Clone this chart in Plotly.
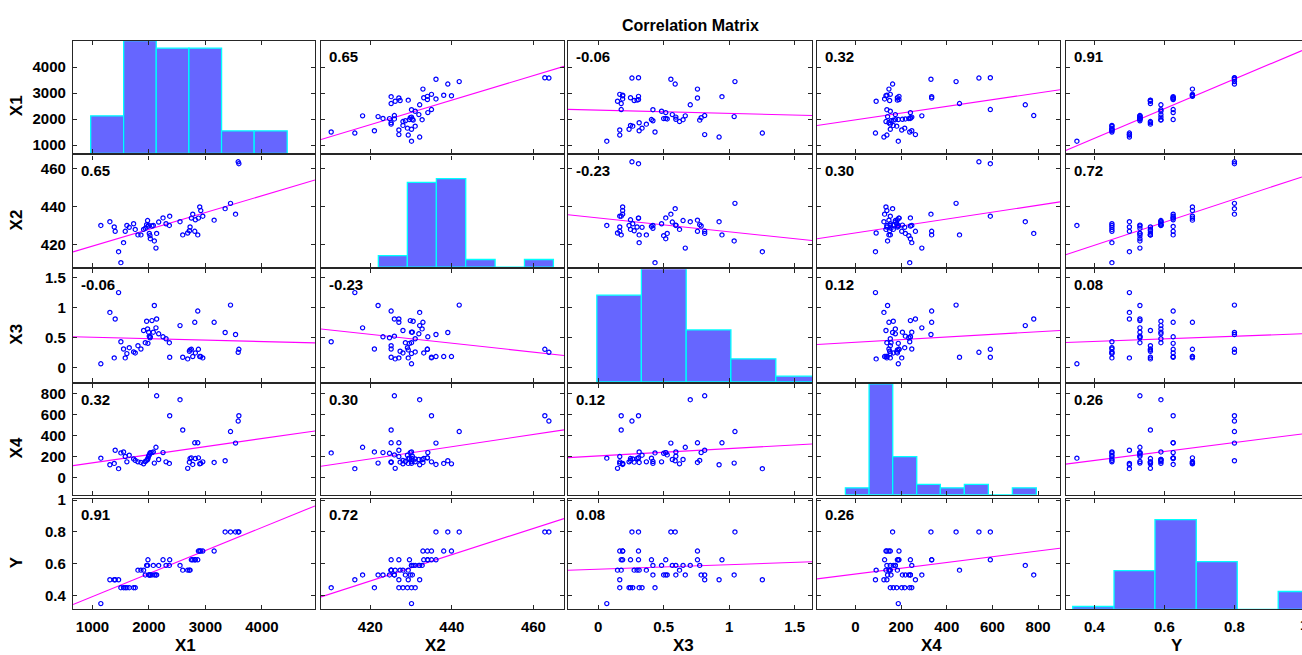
import numpy as np
import plotly.graph_objects as go

# ---------------------------------------------------------------- data
names = ["X1", "X2", "X3", "X4", "Y"]

x1 = [1148, 1308, 1385, 1402, 1462, 1503, 1550, 1580, 1609, 1651, 1728, 1757,
      1805, 1858, 1905, 1935, 1959, 1976, 1982, 1994, 2006, 2018, 2024, 2053,
      2077, 2095, 2124, 2136, 2172, 2249, 2302, 2361, 2367, 2550, 2598, 2686,
      2716, 2728, 2751, 2775, 2811, 2822, 2864, 2876, 2899, 2917, 2953, 3154,
      3349, 3444, 3533, 3580, 3592]
x2 = [430.1, 432.1, 429.3, 427.0, 416.2, 410.4, 421.0, 427.0, 430.1, 429.1,
      431.0, 428.0, 425.1, 425.1, 428.0, 428.6, 430.5, 432.7, 429.6, 430.3,
      425.9, 424.7, 423.1, 429.8, 430.1, 421.9, 418.1, 425.9, 431.9, 434.1,
      431.0, 430.1, 435.0, 432.1, 425.1, 426.1, 427.3, 429.3, 434.0, 436.1,
      427.0, 433.1, 425.1, 434.0, 439.9, 438.0, 435.0, 432.9, 439.0, 441.8,
      436.1, 463.8, 462.8]
x3 = [0.066, 0.923, 0.165, 0.813, 1.253, 0.434, 0.313, 0.165, 0.236, 0.335,
      0.264, 0.247, 0.368, 0.313, 0.621, 0.418, 0.775, 0.648, 0.407, 0.593,
      0.527, 0.500, 0.516, 0.786, 0.593, 1.038, 0.665, 0.813, 0.566, 0.516,
      0.484, 0.418, 0.176, 0.703, 0.176, 0.148, 0.275, 0.297, 0.308, 0.187,
      0.758, 0.247, 0.945, 0.308, 0.187, 0.187, 0.165, 0.758, 0.588, 1.044,
      0.555, 0.258, 0.308]
x4 = [188, 125, 138, 263, 88, 238, 247, 203, 153, 216, 181, 166, 153, 147,
      134, 156, 166, 175, 188, 206, 219, 234, 241, 241, 247, 141, 291, 781,
      175, 241, 153, 138, 591, 744, 456, 91, 150, 184, 191, 128, 334, 184,
      334, 191, 134, 138, 153, 147, 163, 441, 331, 541, 591]
y = [0.35, 0.50, 0.50, 0.50, 0.50, 0.45, 0.45, 0.45, 0.45, 0.45, 0.45, 0.45,
     0.56, 0.56, 0.56, 0.53, 0.59, 0.59, 0.625, 0.53, 0.53, 0.53, 0.53, 0.53,
     0.59, 0.53, 0.53, 0.53, 0.59, 0.625, 0.59, 0.59, 0.625, 0.59, 0.56, 0.56,
     0.56, 0.56, 0.625, 0.625, 0.625, 0.625, 0.625, 0.68, 0.68, 0.68, 0.68,
     0.68, 0.80, 0.80, 0.80, 0.80, 0.80]

# pairwise correlation coefficients printed in each panel
corr_labels = [
    [None, 0.65, -0.06, 0.32, 0.91],
    [0.65, None, -0.23, 0.30, 0.72],
    [-0.06, -0.23, None, 0.12, 0.08],
    [0.32, 0.30, 0.12, None, 0.26],
    [0.91, 0.72, 0.08, 0.26, None],
]

# diagonal histograms: bin edges (variable units) and bar heights (counts)
hist_edges = [
    [968, 1552, 2129, 2708, 3286, 3863, 4448],
    [421.96, 429.08, 436.2, 443.4, 450.6, 457.8, 464.9],
    [-0.01, 0.33, 0.672, 1.013, 1.356, 1.698],
    [-43.8, 60, 163.7, 268.8, 372.2, 477.2, 582.3, 687.4, 792.5],
    [0.338, 0.456, 0.573, 0.691, 0.808, 0.925, 1.042],
]
hist_counts = [
    [5, 15, 14, 14, 3, 3],
    [3, 22, 23, 2, 0, 2],
    [15, 21, 9, 4, 1],
    [2, 32, 11, 3, 2, 3, 0, 2],
    [1, 13, 30, 16, 0, 6],
]
# count that fills the full height of each diagonal panel
hist_top = [15, 29, 19.5, 32, 37]

tick_vals = [
    [1000, 2000, 3000, 4000],
    [420, 440, 460],
    [0, 0.5, 1, 1.5],
    [0, 200, 400, 600, 800],
    [0.4, 0.6, 0.8, 1],
]
tick_text = [
    ["1000", "2000", "3000", "4000"],
    ["420", "440", "460"],
    ["0", "0.5", "1", "1.5"],
    ["0", "200", "400", "600", "800"],
    ["0.4", "0.6", "0.8", "1"],
]

data = [np.array(v, dtype=float) for v in (x1, x2, x3, x4, y)]

# ---------------------------------------------------------------- layout geometry
W, H = 1302, 655
col_px = [(73, 315), (321, 564), (568, 812), (817, 1060), (1065.7, 1302)]
row_px = [(34, 148), (150, 263), (265, 379), (381, 493), (497, 609)]
col_range = [[655, 4940], [407.9, 467.5], [-0.23, 1.632], [-168, 896], [0.318, 0.993]]
row_range = [[678, 5020], [408, 467.2], [-0.236, 1.643], [-160, 894], [0.313, 1.009]]

FONT = "Liberation Sans, Arial, sans-serif"
AX = "#262626"
BLUE = "#0000FF"
MAGENTA = "#FF00FF"


def xd(px):
    return px / W


def yd(px):
    return 1 - px / H


def ax_name(kind, idx):
    return kind if idx == 1 else f"{kind}{idx}"


fig = go.Figure()
layout = {}
annotations = []

for r in range(5):
    for c in range(5):
        idx = r * 5 + c + 1
        xa, ya = ax_name("x", idx), ax_name("y", idx)
        common = dict(
            showline=True, linecolor=AX, linewidth=1.3,
            ticks="inside", ticklen=4, tickwidth=1.1, tickcolor=AX,
            showgrid=False, zeroline=False,
            tickfont=dict(family=FONT, size=15, color="black", weight="bold"),
        )
        layout[ax_name("xaxis", idx)] = dict(
            common, domain=[xd(col_px[c][0]), xd(col_px[c][1])], anchor=ya,
            range=col_range[c], tickmode="array", tickvals=tick_vals[c],
            ticktext=tick_text[c], showticklabels=(r == 4), mirror="ticks",
            ticklabelstandoff=3,
        )
        layout[ax_name("yaxis", idx)] = dict(
            common, domain=[yd(row_px[r][1]), yd(row_px[r][0])], anchor=xa,
            range=row_range[r], tickmode="array", tickvals=tick_vals[r],
            ticktext=tick_text[r], showticklabels=(c == 0),
            mirror=("ticks" if c < 4 else False),
            ticklabelstandoff=3,
        )

        if r == c:
            # histogram scaled so that hist_top fills the panel height
            lo, hi = row_range[r]
            edges = np.array(hist_edges[r])
            centers = (edges[:-1] + edges[1:]) / 2
            widths = np.diff(edges)
            heights = np.array(hist_counts[r], dtype=float) / hist_top[r] * (hi - lo)
            fig.add_trace(go.Bar(
                x=centers, y=heights, base=lo, width=widths,
                marker=dict(color="rgba(0,0,255,0.6)",
                            line=dict(color="#00FFFF", width=1.3)),
                xaxis=xa, yaxis=ya, showlegend=False, hoverinfo="skip",
            ))
        else:
            xv, yv = data[c], data[r]
            slope, icpt = np.polyfit(xv, yv, 1)
            lx = np.array(col_range[c])
            fig.add_trace(go.Scatter(
                x=lx, y=slope * lx + icpt, mode="lines",
                line=dict(color=MAGENTA, width=1.1),
                xaxis=xa, yaxis=ya, showlegend=False, hoverinfo="skip",
            ))
            fig.add_trace(go.Scatter(
                x=xv, y=yv, mode="markers",
                marker=dict(symbol="circle-open", size=4.2, color=BLUE,
                            line=dict(color=BLUE, width=1.2)),
                xaxis=xa, yaxis=ya, showlegend=False,
            ))
            annotations.append(dict(
                text=f"{corr_labels[r][c]:.2f}", showarrow=False,
                xref=f"{xa} domain", yref=f"{ya} domain",
                x=0, y=1, xanchor="left", yanchor="middle",
                xshift=6, yshift=-15.5,
                font=dict(family=FONT, size=15, color="black", weight="bold"),
            ))

# row labels on the left
for r, nm in enumerate(names):
    cy = (row_px[r][0] + row_px[r][1]) / 2 + 8.7
    annotations.append(dict(
        text=nm, showarrow=False, xref="paper", yref="paper",
        x=xd(16.5), y=yd(cy), xanchor="center", yanchor="middle",
        textangle=-90,
        font=dict(family=FONT, size=17, color="black", weight="bold"),
    ))

# column labels at the bottom
col_title_x = [185, 435, 683, 931, 1177]
for c, nm in enumerate(names):
    annotations.append(dict(
        text=nm, showarrow=False, xref="paper", yref="paper",
        x=xd(col_title_x[c]), y=yd(645), xanchor="center", yanchor="middle",
        font=dict(family=FONT, size=17, color="black", weight="bold"),
    ))

# last tick label of the Y column falls on the page edge (tick at Y = 1)
y_one_px = col_px[4][0] + (1.0 - col_range[4][0]) / (col_range[4][1] - col_range[4][0]) \
    * (col_px[4][1] - col_px[4][0])
annotations.append(dict(
    text="1", showarrow=False, xref="paper", yref="paper",
    x=xd(y_one_px), y=yd(624), xanchor="center", yanchor="middle",
    font=dict(family=FONT, size=15, color="black", weight="bold"),
))

annotations.append(dict(
    text="Correlation Matrix", showarrow=False, xref="paper", yref="paper",
    x=xd(690), y=yd(19), xanchor="center", yanchor="middle",
    font=dict(family=FONT, size=16, color="black", weight="bold"),
))

fig.update_layout(
    width=W, height=H,
    margin=dict(l=0, r=0, t=0, b=0),
    paper_bgcolor="white", plot_bgcolor="white",
    barmode="overlay",
    annotations=annotations,
    **layout,
)

fig.write_html("out.html")
